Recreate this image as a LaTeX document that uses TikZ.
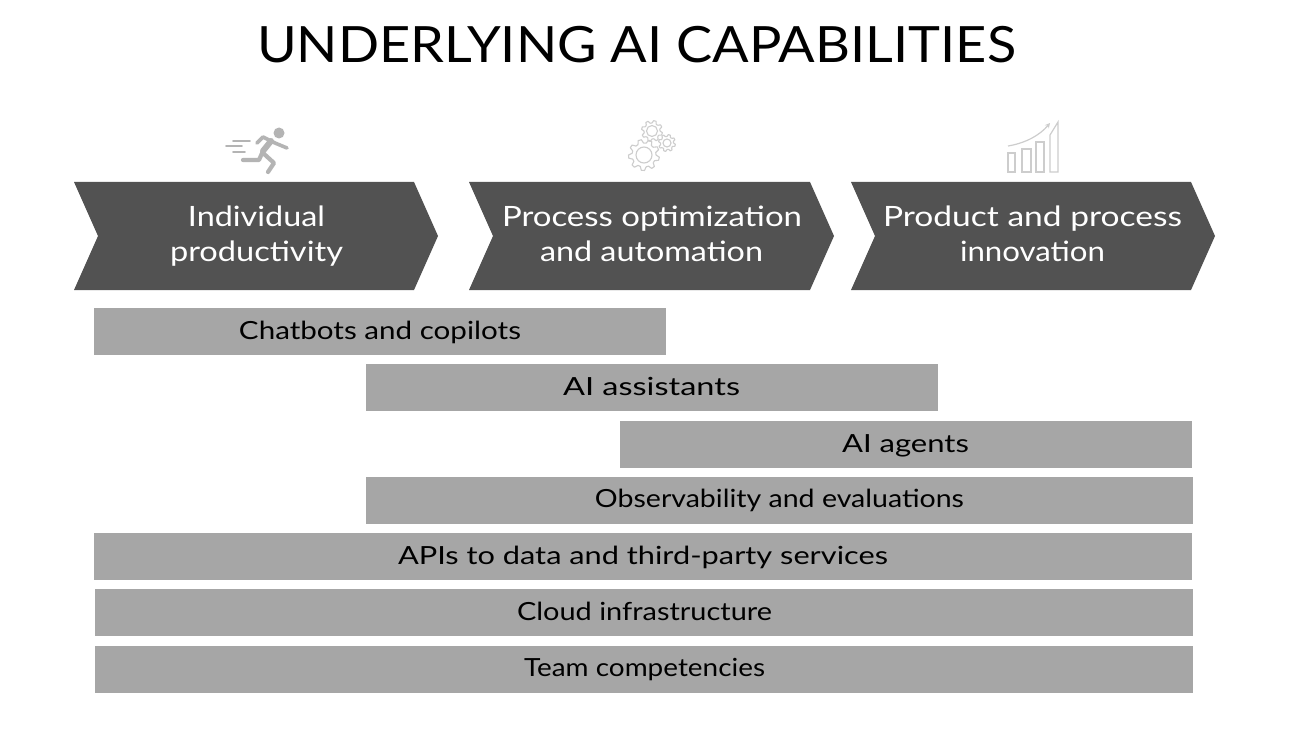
\documentclass[tikz,border=0pt]{standalone}
\usepackage{fontspec}
\usetikzlibrary{arrows.meta}
\setmainfont{Lato}
\definecolor{chev}{HTML}{525252}
\definecolor{barg}{HTML}{A6A6A6}
\definecolor{icong}{HTML}{B4B4B4}
\definecolor{iconl}{HTML}{CDCDCD}
\newcommand{\fit}[2]{\resizebox{#1pt}{\height}{#2}}
\tikzset{
  x=1pt,y=-1pt,
  chevron/.style={fill=chev,draw=none},
  barbox/.style={fill=barg,draw=none},
  bartext/.style={text=black,inner sep=0pt,anchor=base,font=\fontsize{25}{28}\selectfont},
  chevtext/.style={text=white,inner sep=0pt,anchor=base,font=\fontsize{28}{32}\selectfont},
  titletext/.style={text=black,inner sep=0pt,anchor=base,font=\fontsize{50}{54}\selectfont},
  runner/.style={draw=icong,line width=4.2pt,line cap=round,line join=round},
  speedline/.style={draw=icong,line width=1.6pt,line cap=round},
  gearline/.style={draw=iconl,line width=1.1pt},
  chartline/.style={draw=iconl,line width=1.2pt}
}
\newcommand{\gearat}[6]{% x,y,outer,root,inner,teeth
  \begin{scope}[shift={(#1,#2)}]
    \pgfmathsetmacro{\stepa}{360/#6}
    \foreach \i in {1,...,#6}{
      \pgfmathsetmacro{\aa}{\i*\stepa}
      \draw[gearline,line join=round] (\aa:#4) -- (\aa+0.2*\stepa:#3) -- (\aa+0.5*\stepa:#3) -- (\aa+0.7*\stepa:#4) -- (\aa+\stepa:#4);
    }
    \draw[gearline] (0,0) circle (#5);
  \end{scope}}
\begin{document}
\begin{tikzpicture}
\useasboundingbox[fill=white] (0,0) rectangle (1292,738);
\node[titletext] (title) at (636.5,63) {\fit{759}{UNDERLYING AI CAPABILITIES}};
% icons
\fill[icong] (279,133) circle (5.5);
\draw[runner,line width=3.6pt] (257,143) -- (263,137) -- (275,143) -- (287,148);
\draw[runner,line width=6pt] (271,141) -- (263,151);
\draw[runner] (263,151) -- (259,160) -- (243,160);
\draw[runner] (263,153) -- (274,163) -- (268,172);
\draw[speedline] (233,141) -- (250,141);
\draw[speedline] (226,146) -- (242,146);
\draw[speedline] (233,152) -- (245,152);
\gearat{644}{155}{15.5}{12}{8}{9}
\gearat{652}{131}{10.5}{8}{5.5}{8}
\gearat{667}{143}{8.5}{6.5}{4}{8}
\draw[chartline] (1008,153) rectangle (1015,172);
\draw[chartline] (1022,149) rectangle (1031,172);
\draw[chartline] (1036,142) rectangle (1044,172);
\draw[chartline] (1050,172) -- (1050,135) -- (1058,122) -- (1058,172) -- cycle;
\draw[chartline,-{Stealth[length=5pt,width=5pt]}] (1008,146) .. controls (1026,143) and (1040,135) .. (1050,123);
% chevrons
\path[chevron] (74,182) -- (414,182) -- (438,236) -- (414,290) -- (74,290) -- (98,236) -- cycle;
\path[chevron] (469,182) -- (810,182) -- (834,236) -- (810,290) -- (469,290) -- (493,236) -- cycle;
\path[chevron] (851,182) -- (1191,182) -- (1215,236) -- (1191,290) -- (851,290) -- (875,236) -- cycle;
\node[chevtext] (c1a) at (256.5,226) {\fit{137}{Individual}};
\node[chevtext] (c1b) at (256.5,261) {\fit{173}{productivity}};
\node[chevtext] (c2a) at (652,226) {\fit{300}{Process optimization}};
\node[chevtext] (c2b) at (651.5,261) {\fit{223}{and automation}};
\node[chevtext] (c3a) at (1032.5,226) {\fit{299}{Product and process}};
\node[chevtext] (c3b) at (1032.5,261) {\fit{145}{innovation}};
% bars
\path[barbox] (94,308) rectangle (666,355);
\path[barbox] (366,364) rectangle (938,411);
\path[barbox] (620,421) rectangle (1192,468);
\path[barbox] (366,477) rectangle (1193,524);
\path[barbox] (94,533) rectangle (1192,580);
\path[barbox] (95,589) rectangle (1193,636);
\path[barbox] (95,646) rectangle (1193,693);
\node[bartext] (b1) at (380,339) {\fit{282}{Chatbots and copilots}};
\node[bartext] (b2) at (651.5,395) {\fit{177}{AI assistants}};
\node[bartext] (b3) at (905.5,452) {\fit{127}{AI agents}};
\node[bartext] (b4) at (779.5,507) {\fit{369}{Observability and evaluations}};
\node[bartext] (b5) at (643,564) {\fit{490}{APIs to data and third-party services}};
\node[bartext] (b6) at (644.5,620) {\fit{255}{Cloud infrastructure}};
\node[bartext] (b7) at (644.5,676) {\fit{241}{Team competencies}};
\end{tikzpicture}
\end{document}
